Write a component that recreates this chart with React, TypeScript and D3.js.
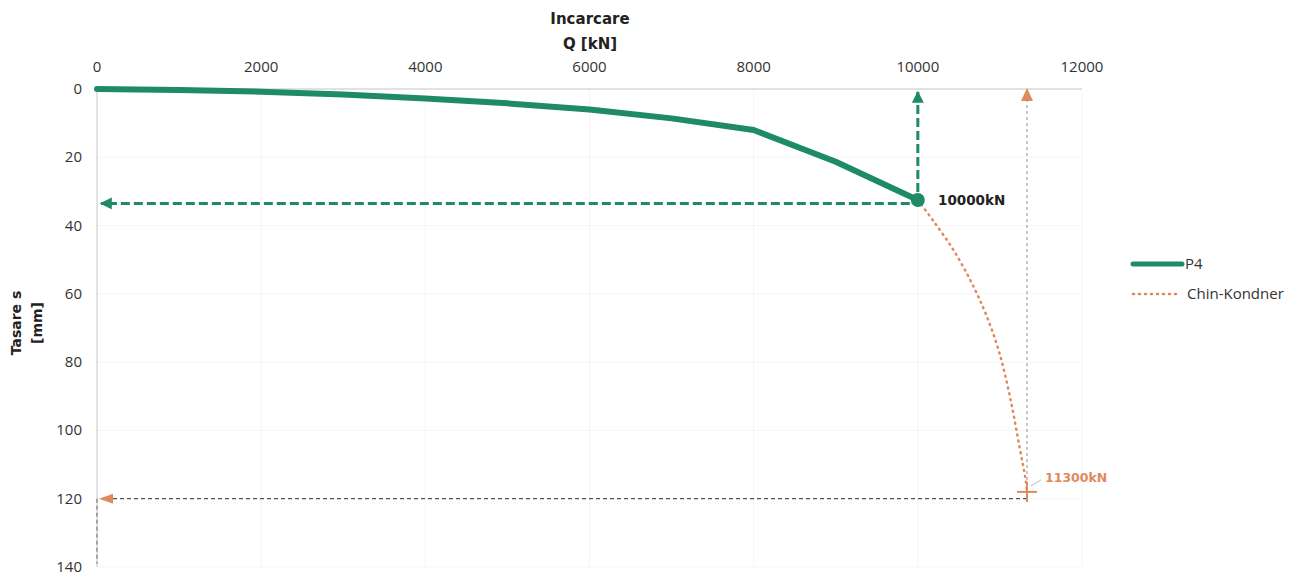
import React from "react";
import * as d3 from "d3";

const xTicks = [0, 2000, 4000, 6000, 8000, 10000, 12000];
const yTicks = [0, 20, 40, 60, 80, 100, 120, 140];

const p4Load = [0, 1000, 2000, 3000, 4000, 5000, 6000, 7000, 8000, 9000, 10000];
const p4Settle = [0, 0.3, 0.8, 1.6, 2.8, 4.2, 6.0, 8.6, 12.0, 21.3, 32.5];

const ckLoad = [10000, 10200, 10430, 10650, 10830, 10990, 11130, 11240, 11310, 11330];
const ckSettle = [32.5, 39, 47, 56.5, 66, 77, 91, 105, 114, 118];

const ultLoad = 11330;
const ultSettle = 120;
const measLoad = 10000;
const measSettle = 32.5;

const GREEN = "#1f8a66";
const ORANGE = "#e0895c";
const FONT = "'Open Sans', sans-serif";
const BOLD = "'DejaVu Sans', sans-serif";

export default function App() {
  const W = 1311, H = 578;
  const x = d3.scaleLinear().domain([0, 12000]).range([97, 1082]);
  const y = d3.scaleLinear().domain([0, 140]).range([89, 567]);

  const line = d3.line<[number, number]>().x(d => x(d[0])).y(d => y(d[1]));
  const p4Pts: [number, number][] = p4Load.map((q, i) => [q, p4Settle[i]]);
  const ckPts: [number, number][] = ckLoad.map((q, i) => [q, ckSettle[i]]);
  const ckCurve = d3.line<[number, number]>().x(d => x(d[0])).y(d => y(d[1])).curve(d3.curveCatmullRom);

  const px = x(measLoad), py = y(measSettle);
  const ux = x(ultLoad), uy = y(ultSettle);

  return (
    <svg width={W} height={H} style={{ position: "absolute", left: 0, top: 0, background: "#fff" }} fontFamily={FONT}>
      <defs>
        <marker id="gArrow" viewBox="0 0 10 10" refX="9" refY="5" markerWidth="4" markerHeight="4" orient="auto-start-reverse" markerUnits="strokeWidth">
          <path d="M0,0 L10,5 L0,10 z" fill={GREEN} />
        </marker>
      </defs>

      {xTicks.slice(1).map(t => (
        <line key={"gx" + t} x1={x(t)} x2={x(t)} y1={y(0)} y2={y(140)} stroke="#f4f4f4" strokeWidth={1} />
      ))}
      {yTicks.slice(1).map(t => (
        <line key={"gy" + t} x1={x(0)} x2={x(12000)} y1={y(t)} y2={y(t)} stroke="#f6f6f6" strokeWidth={1} />
      ))}
      <line x1={x(0)} x2={x(12000)} y1={y(0)} y2={y(0)} stroke="#d9d9d9" strokeWidth={1.5} />
      <line x1={x(0)} x2={x(0)} y1={y(0)} y2={y(140)} stroke="#d0d0d0" strokeWidth={1.2} />
      <line x1={x(0)} x2={x(0)} y1={y(120)} y2={y(139)} stroke="#666" strokeWidth={1} strokeDasharray="4,3" />

      {xTicks.map(t => (
        <text key={"xt" + t} x={x(t)} y={72} textAnchor="middle" fontSize={15} fill="#333">{t}</text>
      ))}
      {yTicks.map(t => (
        <text key={"yt" + t} x={82} y={y(t) + 5} textAnchor="end" fontSize={15} fill="#333">{t}</text>
      ))}

      <g fontFamily={BOLD}>
        <text x={590} y={24} textAnchor="middle" fontSize={15} fontWeight="bold" fill="#222">Incarcare</text>
        <text x={590} y={49} textAnchor="middle" fontSize={15} fontWeight="bold" fill="#222">Q [kN]</text>
        <g transform="translate(21,323) rotate(-90)">
          <text x={0} y={0} textAnchor="middle" fontSize={14} fontWeight="bold" fill="#222">Tasare s</text>
          <text x={0} y={21} textAnchor="middle" fontSize={14} fontWeight="bold" fill="#222">[mm]</text>
        </g>
      </g>

      <line x1={ux} x2={ux} y1={y(118)} y2={y(0) + 12} stroke="#b5b5b5" strokeWidth={1.5} strokeDasharray="3,3" />
      <path d={`M${ux},${y(0) - 1} L${ux - 6},${y(0) + 12} L${ux + 6},${y(0) + 12} z`} fill={ORANGE} />
      <line x1={ux} x2={x(0) + 14} y1={uy} y2={uy} stroke="#555" strokeWidth={1.3} strokeDasharray="4,3" />
      <path d={`M${x(0) + 2},${uy} L${x(0) + 16},${uy - 5} L${x(0) + 16},${uy + 5} z`} fill={ORANGE} />

      <path d={ckCurve(ckPts) || ""} fill="none" stroke={ORANGE} strokeWidth={2.5} strokeDasharray="1,5" strokeLinecap="round" />

      <path d={line(p4Pts) || ""} fill="none" stroke={GREEN} strokeWidth={6} strokeLinejoin="round" strokeLinecap="round" />

      <line x1={px - 8} x2={x(0) + 4} y1={y(33.5)} y2={y(33.5)} stroke={GREEN} strokeWidth={3} strokeDasharray="9,4" markerEnd="url(#gArrow)" />
      <line x1={px} x2={px} y1={py - 8} y2={y(0) + 3} stroke={GREEN} strokeWidth={3} strokeDasharray="9,4" markerEnd="url(#gArrow)" />
      <circle cx={px} cy={py} r={7} fill={GREEN} />
      <text x={938} y={205} fontSize={13.5} fontWeight="bold" fill="#222" fontFamily={BOLD}>10000kN</text>

      <line x1={ux - 10} x2={ux + 10} y1={y(118)} y2={y(118)} stroke={ORANGE} strokeWidth={2} />
      <line x1={ux} x2={ux} y1={y(118) - 10} y2={y(118) + 10} stroke={ORANGE} strokeWidth={2} />
      <line x1={ux + 4} x2={ux + 14} y1={y(118) - 6} y2={y(118) - 12} stroke="#bbb" strokeWidth={1} />
      <text x={1045} y={482} fontSize={12.5} fontWeight="bold" fill={ORANGE} fontFamily={BOLD}>11300kN</text>

      <line x1={1133} x2={1182} y1={264} y2={264} stroke={GREEN} strokeWidth={5} strokeLinecap="round" />
      <text x={1185} y={269} fontSize={15} fill="#333">P4</text>
      <line x1={1133} x2={1181} y1={294} y2={294} stroke={ORANGE} strokeWidth={2.5} strokeDasharray="1,5" strokeLinecap="round" />
      <text x={1187} y={299} fontSize={15} fill="#333">Chin-Kondner</text>
    </svg>
  );
}
